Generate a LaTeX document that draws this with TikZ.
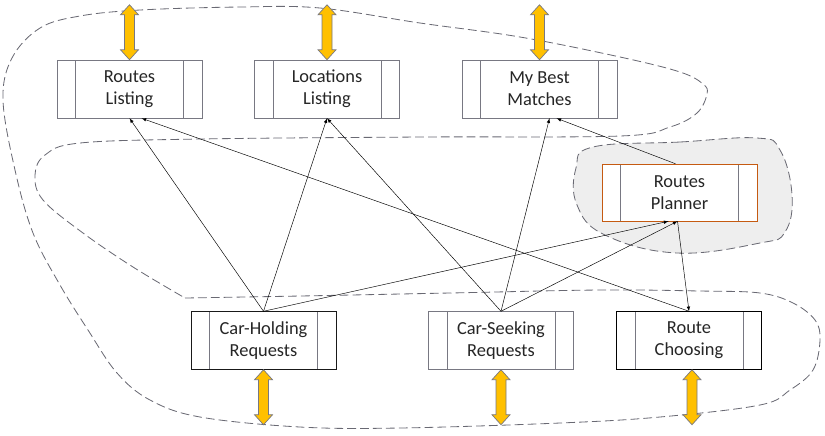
\documentclass[tikz,border=0pt]{standalone}
\usepackage{fontspec}
\setmainfont{Carlito}
\usetikzlibrary{arrows,calc}

\definecolor{boxgray}{RGB}{120,120,130}
\definecolor{ioyellow}{RGB}{255,192,0}
\definecolor{planorange}{RGB}{197,90,17}
\definecolor{blobgray}{RGB}{238,238,238}
\definecolor{dashgray}{RGB}{105,105,115}

\tikzset{
  proc/.style={draw=boxgray, fill=white, minimum width=4.35cm, minimum height=1.74cm, inner sep=0pt, align=center,
    text=black!85, font=\fontsize{15.7}{18.8}\selectfont,
    path picture={\draw[boxgray,-] ([xshift=0.55cm]path picture bounding box.north west) -- ([xshift=0.55cm]path picture bounding box.south west)
      ([xshift=-0.55cm]path picture bounding box.north east) -- ([xshift=-0.55cm]path picture bounding box.south east);}},
  ioedge/.style={draw=boxgray, fill=ioyellow, line width=0.6pt, line join=miter, -},
  iobar/.pic={\draw[ioedge] (0,0) -- (-9,-10) -- (-5,-10) -- (-5,-45) -- (-9,-45) -- (0,-55) -- (9,-45) -- (5,-45) -- (5,-10) -- (9,-10) -- cycle;},
  region/.style={draw=dashgray, dash pattern=on 7.5pt off 3.5pt, line width=0.7pt, -}
}

\begin{document}
\begin{tikzpicture}[x=0.03cm,y=-0.03cm,->,>=latex,thin]
  \useasboundingbox (0,0) rectangle (825,435);
  \draw[region] plot[smooth,tension=0.6] coordinates {(185,298) (300,296) (450,293) (600,290) (700,291) (760,293) (793,303) (815,320) (820,340) (813,370) (790,390) (760,405) (660,417) (560,423) (400,428) (300,427) (200,417) (150,400) (117,373) (88,330) (60,285) (33,233) (15,170) (3,100) (12,58) (40,28) (80,16) (140,10) (240,7) (320,8) (420,23) (520,37) (620,57) (680,72) (703,84) (707,94) (697,113) (670,127) (620,136) (420,137) (200,139) (80,143) (45,155) (35,175) (43,200) (83,233) (133,267) (185,298)};
  \draw[region,fill=blobgray] plot[smooth cycle,tension=0.7] coordinates {(593,147) (680,142) (757,138) (780,150) (792,195) (785,232) (760,243) (677,253) (605,235) (577,205) (576,168)};

  \node[proc]				(RL)	at (129.5,89)	{Routes\\Listing};
  \node[proc]				(LL)	at (327,89)	{Locations\\Listing};
  \node[proc,minimum width=4.65cm]	(MBM)	at (539.5,89)	{My Best\\Matches};
  \node[proc,minimum width=4.65cm,minimum height=1.71cm,draw=planorange]	(RP)	at (679.5,192.5)	{Routes\\Planner};
  \node[proc,draw=black!90]		(CH)	at (263.5,340.5)	{Car-Holding\\Requests};
  \node[proc]				(CS)	at (501,340.5)	{Car-Seeking\\Requests};
  \node[proc,draw=black]		(RC)	at (689,340.5)	{Route\\Choosing};

  \pic at (RL.north)			{iobar};
  \pic at (LL.north)			{iobar};
  \pic at (MBM.north)			{iobar};
  \pic[yscale=-1] at (CH.south)		{iobar};
  \pic[yscale=-1] at (CS.south)		{iobar};
  \pic[yscale=-1] at ($(RC.south)+(3,0)$)	{iobar};

  \draw (CH.north) -- (RL.south);
  \draw (CH.north) -- (LL.south);
  \draw (CH.north) -- ($(RP.south)+(-11,0)$);
  \draw (CS.north) -- (LL.south);
  \draw (CS.north) -- ($(MBM.south)+(10,0)$);
  \draw (CS.north) -- ($(RP.south)+(-2,0)$);
  \draw (RC.north) -- ($(RL.south)+(12,0)$);
  \draw ($(RP.north)+(-4,0)$) -- ($(MBM.south)+(17,0)$);
  \draw ($(RP.south)+(-2,0)$) -- (RC.north);
\end{tikzpicture}
\end{document}
